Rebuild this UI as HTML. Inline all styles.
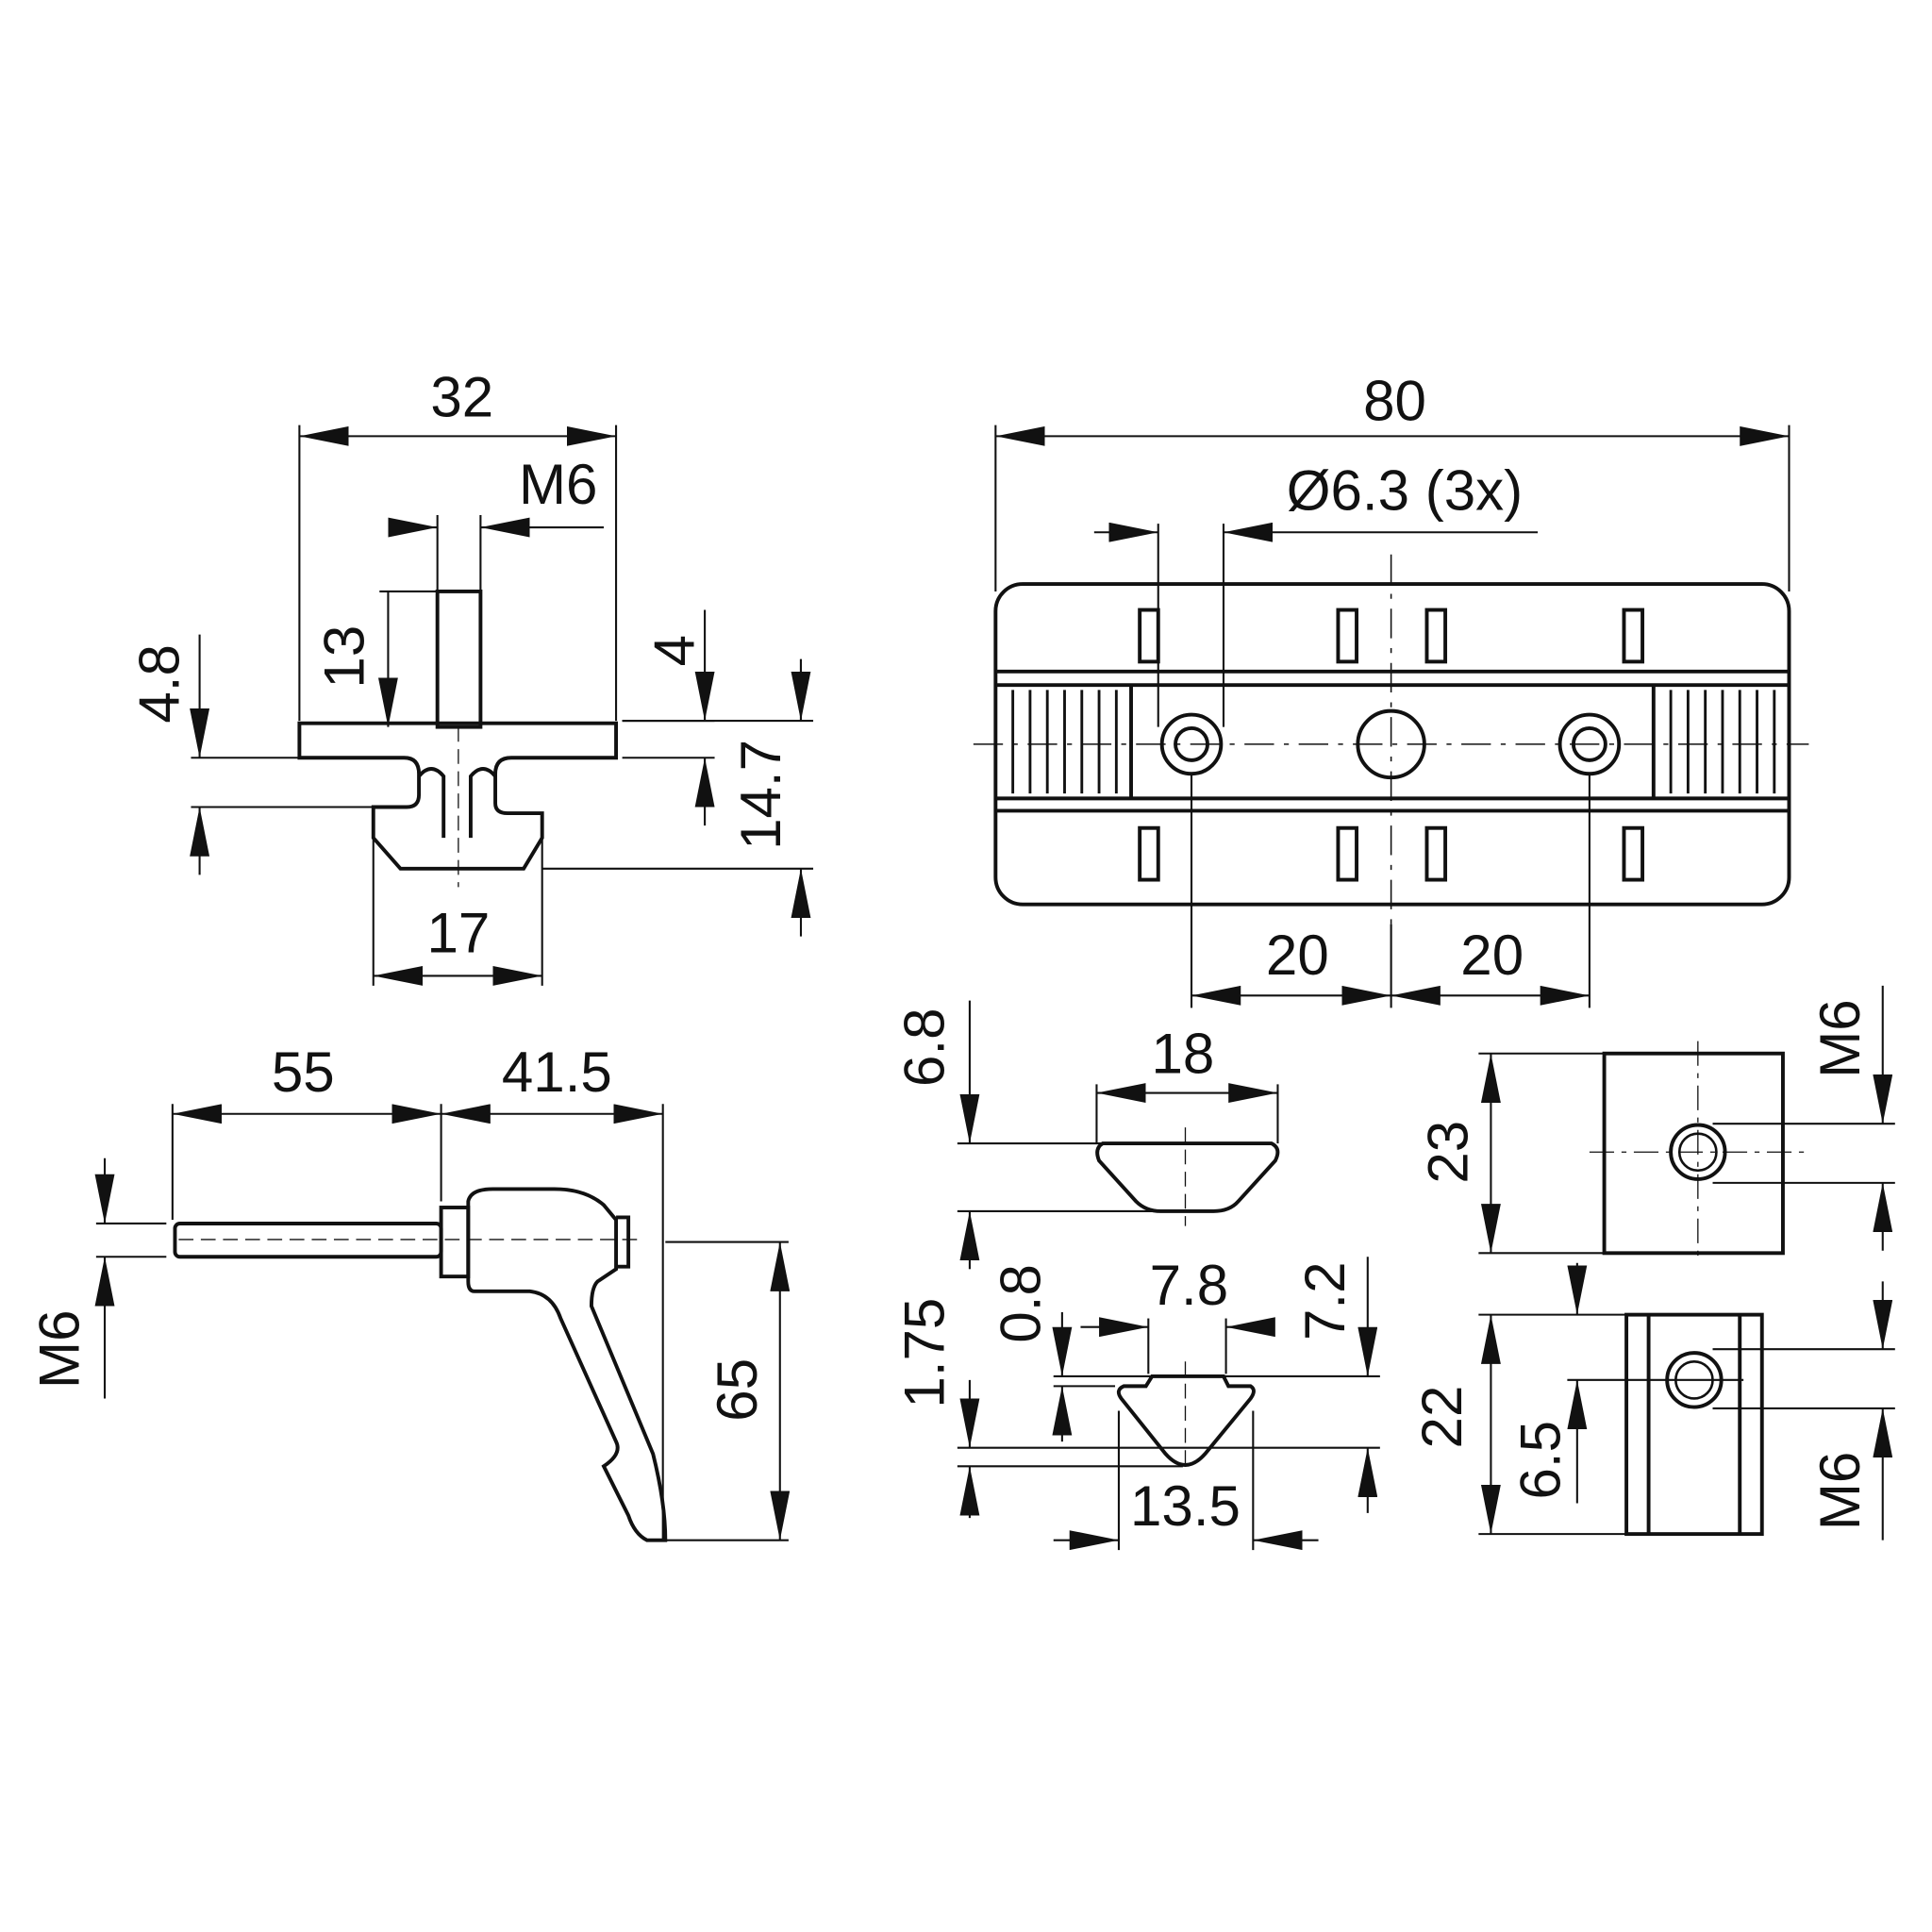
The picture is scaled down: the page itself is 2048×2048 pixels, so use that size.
<!DOCTYPE html>
<html><head><meta charset="utf-8"><style>
html,body{margin:0;padding:0;background:#fff;}
svg{display:block;}
text{font-family:"Liberation Sans",sans-serif;font-size:46px;fill:#111;text-anchor:middle;}
</style></head><body>
<svg width="2048" height="2048" viewBox="0 0 1568 1568" xmlns="http://www.w3.org/2000/svg">
<defs>
<marker id="a" viewBox="0 0 20 8" refX="20" refY="4" markerWidth="40" markerHeight="16" markerUnits="userSpaceOnUse" orient="auto-start-reverse"><path d="M0,0 L20,4 L0,8 z" fill="#111"/></marker>
</defs>
<g stroke="#111" fill="none" stroke-width="1.6">
<!-- ===== top-left view ===== -->
<line x1="243" y1="345" x2="243" y2="585"/><line x1="500" y1="345" x2="500" y2="585"/>
<line x1="243" y1="354" x2="500" y2="354" marker-start="url(#a)" marker-end="url(#a)"/>
<line x1="355" y1="418" x2="355" y2="480"/><line x1="390" y1="418" x2="390" y2="480"/>
<line x1="316" y1="428" x2="355" y2="428" marker-end="url(#a)"/>
<line x1="490" y1="428" x2="390" y2="428" marker-end="url(#a)"/>
<line x1="315" y1="480" x2="315" y2="590" marker-end="url(#a)"/>
<line x1="308" y1="480" x2="355" y2="480"/>
<g stroke-width="3">
<rect x="355" y="480" width="35" height="110"/>
<path d="M243,587 H500 V615 H415 Q402,615 402,628 V652 Q402,660 412,660 H440 V680 L425,705 H325 L303,680 V655 H330 Q340,655 340,645 V628 Q340,615 328,615 H243 Z"/>
<path d="M340,630 Q350,618 360,630 V680 M402,630 Q392,618 382,630 V680"/>
</g>
<line x1="372" y1="590" x2="372" y2="720" stroke-dasharray="12,6" stroke-width="1"/>
<line x1="155" y1="615" x2="243" y2="615"/><line x1="155" y1="655" x2="303" y2="655"/>
<line x1="162" y1="515" x2="162" y2="615" marker-end="url(#a)"/>
<line x1="162" y1="710" x2="162" y2="655" marker-end="url(#a)"/>
<line x1="505" y1="585" x2="580" y2="585"/><line x1="505" y1="615" x2="580" y2="615"/>
<line x1="572" y1="495" x2="572" y2="585" marker-end="url(#a)"/>
<line x1="572" y1="670" x2="572" y2="615" marker-end="url(#a)"/>
<line x1="505" y1="585" x2="660" y2="585"/><line x1="440" y1="705" x2="660" y2="705"/>
<line x1="650" y1="585" x2="650" y2="535" />
<line x1="650" y1="535" x2="650" y2="585" marker-end="url(#a)"/>
<line x1="650" y1="760" x2="650" y2="705" marker-end="url(#a)"/>
<line x1="303" y1="680" x2="303" y2="800"/><line x1="440" y1="680" x2="440" y2="800"/>
<line x1="303" y1="792" x2="440" y2="792" marker-start="url(#a)" marker-end="url(#a)"/>

<!-- ===== top-right view ===== -->
<line x1="808" y1="345" x2="808" y2="480"/><line x1="1452" y1="345" x2="1452" y2="480"/>
<line x1="808" y1="354" x2="1452" y2="354" marker-start="url(#a)" marker-end="url(#a)"/>
<line x1="940" y1="425" x2="940" y2="590"/><line x1="993" y1="425" x2="993" y2="590"/>
<line x1="888" y1="432" x2="940" y2="432" marker-end="url(#a)"/>
<line x1="1248" y1="432" x2="993" y2="432" marker-end="url(#a)"/>
<g stroke-width="3">
<rect x="808" y="474" width="644" height="260" rx="22"/>
<line x1="808" y1="545" x2="1452" y2="545"/><line x1="808" y1="556" x2="1452" y2="556"/>
<line x1="808" y1="648" x2="1452" y2="648"/><line x1="808" y1="658" x2="1452" y2="658"/>
<rect x="925" y="495" width="15" height="42"/><rect x="1086" y="495" width="15" height="42"/>
<rect x="1158" y="495" width="15" height="42"/><rect x="1318" y="495" width="15" height="42"/>
<rect x="925" y="672" width="15" height="42"/><rect x="1086" y="672" width="15" height="42"/>
<rect x="1158" y="672" width="15" height="42"/><rect x="1318" y="672" width="15" height="42"/>
<line x1="918" y1="556" x2="918" y2="648"/><line x1="1342" y1="556" x2="1342" y2="648"/>
<circle cx="967" cy="604" r="24"/><circle cx="967" cy="604" r="13"/>
<circle cx="1129" cy="604" r="27"/>
<circle cx="1290" cy="604" r="24"/><circle cx="1290" cy="604" r="13"/>
</g>
<g stroke-width="2.2">
<line x1="822" y1="560" x2="822" y2="644"/><line x1="836" y1="560" x2="836" y2="644"/><line x1="850" y1="560" x2="850" y2="644"/><line x1="864" y1="560" x2="864" y2="644"/><line x1="878" y1="560" x2="878" y2="644"/><line x1="892" y1="560" x2="892" y2="644"/><line x1="906" y1="560" x2="906" y2="644"/>
<line x1="1356" y1="560" x2="1356" y2="644"/><line x1="1370" y1="560" x2="1370" y2="644"/><line x1="1384" y1="560" x2="1384" y2="644"/><line x1="1398" y1="560" x2="1398" y2="644"/><line x1="1412" y1="560" x2="1412" y2="644"/><line x1="1426" y1="560" x2="1426" y2="644"/><line x1="1440" y1="560" x2="1440" y2="644"/>
</g>
<line x1="790" y1="604" x2="1468" y2="604" stroke-dasharray="24,8,4,8" stroke-width="1.2"/>
<line x1="1129" y1="450" x2="1129" y2="750" stroke-dasharray="24,8,4,8" stroke-width="1.2"/>
<line x1="967" y1="628" x2="967" y2="818"/><line x1="1129" y1="750" x2="1129" y2="818"/><line x1="1290" y1="628" x2="1290" y2="818"/>
<line x1="967" y1="808" x2="1129" y2="808" marker-start="url(#a)" marker-end="url(#a)"/>
<line x1="1129" y1="808" x2="1290" y2="808" marker-start="url(#a)" marker-end="url(#a)"/>

<!-- ===== lever ===== -->
<line x1="140" y1="896" x2="140" y2="990"/><line x1="358" y1="896" x2="358" y2="975"/><line x1="538" y1="896" x2="538" y2="1250"/>
<line x1="140" y1="904" x2="358" y2="904" marker-start="url(#a)" marker-end="url(#a)"/>
<line x1="358" y1="904" x2="538" y2="904" marker-start="url(#a)" marker-end="url(#a)"/>
<g stroke-width="3">
<rect x="142" y="993" width="216" height="27" rx="4"/>
<rect x="358" y="980" width="22" height="56"/>
<path d="M380,975 Q382,965 400,965 H450 Q475,965 490,978 L500,990 V1030 L485,1040 Q480,1045 480,1060 L530,1180 Q540,1220 540,1250 L525,1250 Q515,1245 510,1230 L490,1190 Q505,1180 500,1170 L455,1070 Q448,1050 430,1048 H385 Q380,1048 380,1040 Z"/>
<path d="M500,988 H510 V1028 H500"/>
</g>
<line x1="145" y1="1006" x2="520" y2="1006" stroke-dasharray="12,6" stroke-width="1"/>
<line x1="78" y1="993" x2="135" y2="993"/><line x1="78" y1="1020" x2="135" y2="1020"/>
<line x1="85" y1="940" x2="85" y2="993" marker-end="url(#a)"/>
<line x1="85" y1="1135" x2="85" y2="1020" marker-end="url(#a)"/>
<line x1="540" y1="1008" x2="640" y2="1008"/><line x1="540" y1="1250" x2="640" y2="1250"/>
<line x1="633" y1="1008" x2="633" y2="1250" marker-start="url(#a)" marker-end="url(#a)"/>

<!-- ===== nut profiles ===== -->
<line x1="777" y1="928" x2="900" y2="928"/><line x1="777" y1="983" x2="960" y2="983"/>
<line x1="787" y1="812" x2="787" y2="928" marker-end="url(#a)"/>
<line x1="787" y1="1030" x2="787" y2="983" marker-end="url(#a)"/>
<line x1="890" y1="880" x2="890" y2="928"/><line x1="1037" y1="880" x2="1037" y2="928"/>
<line x1="890" y1="887" x2="1037" y2="887" marker-start="url(#a)" marker-end="url(#a)"/>
<path stroke-width="3" d="M895,928 H1032 Q1040,932 1035,942 L1005,975 Q998,983 985,983 H942 Q930,983 922,975 L892,942 Q888,932 895,928 Z"/>
<line x1="962" y1="915" x2="962" y2="995" stroke-dasharray="12,6" stroke-width="1"/>

<line x1="932" y1="1070" x2="932" y2="1115"/><line x1="995" y1="1070" x2="995" y2="1115"/>
<line x1="877" y1="1077" x2="932" y2="1077" marker-end="url(#a)"/>
<line x1="1030" y1="1077" x2="995" y2="1077" marker-end="url(#a)"/>
<line x1="855" y1="1117" x2="1120" y2="1117"/><line x1="855" y1="1125" x2="905" y2="1125"/>
<line x1="777" y1="1175" x2="1120" y2="1175"/><line x1="777" y1="1190" x2="960" y2="1190"/>
<line x1="862" y1="1065" x2="862" y2="1117" marker-end="url(#a)"/>
<line x1="862" y1="1170" x2="862" y2="1125" marker-end="url(#a)"/>
<line x1="1110" y1="1020" x2="1110" y2="1117" marker-end="url(#a)"/>
<line x1="1110" y1="1228" x2="1110" y2="1175" marker-end="url(#a)"/>
<line x1="787" y1="1120" x2="787" y2="1175" marker-end="url(#a)"/>
<line x1="787" y1="1232" x2="787" y2="1190" marker-end="url(#a)"/>
<path stroke-width="3" d="M935,1117 H993 L997,1125 H1015 Q1020,1128 1015,1135 L978,1180 Q962,1198 946,1180 L910,1135 Q905,1128 912,1125 H930 Z"/>
<line x1="962" y1="1105" x2="962" y2="1195" stroke-dasharray="12,6" stroke-width="1"/>
<line x1="908" y1="1145" x2="908" y2="1258"/><line x1="1017" y1="1145" x2="1017" y2="1258"/>
<line x1="855" y1="1250" x2="908" y2="1250" marker-end="url(#a)"/>
<line x1="1070" y1="1250" x2="1017" y2="1250" marker-end="url(#a)"/>

<!-- ===== right blocks ===== -->
<rect x="1302" y="855" width="145" height="162" stroke-width="3"/>
<circle cx="1378" cy="935" r="22" stroke-width="3"/><circle cx="1378" cy="935" r="15" stroke-width="2"/>
<line x1="1290" y1="935" x2="1470" y2="935" stroke-dasharray="20,6,4,6" stroke-width="1"/>
<line x1="1378" y1="845" x2="1378" y2="1025" stroke-dasharray="20,6,4,6" stroke-width="1"/>
<line x1="1200" y1="855" x2="1302" y2="855"/><line x1="1200" y1="1017" x2="1302" y2="1017"/>
<line x1="1210" y1="855" x2="1210" y2="1017" marker-start="url(#a)" marker-end="url(#a)"/>
<line x1="1390" y1="912" x2="1538" y2="912"/><line x1="1390" y1="960" x2="1538" y2="960"/>
<line x1="1528" y1="800" x2="1528" y2="912" marker-end="url(#a)"/>
<line x1="1528" y1="1015" x2="1528" y2="960" marker-end="url(#a)"/>

<g stroke-width="3">
<rect x="1320" y="1067" width="110" height="178"/>
<line x1="1338" y1="1067" x2="1338" y2="1245"/><line x1="1412" y1="1067" x2="1412" y2="1245"/>
<circle cx="1375" cy="1120" r="22"/>
</g>
<circle cx="1375" cy="1120" r="15" stroke-width="2"/>
<line x1="1200" y1="1067" x2="1320" y2="1067"/><line x1="1200" y1="1245" x2="1320" y2="1245"/>
<line x1="1210" y1="1067" x2="1210" y2="1245" marker-start="url(#a)" marker-end="url(#a)"/>
<line x1="1272" y1="1120" x2="1415" y2="1120"/>
<line x1="1280" y1="1025" x2="1280" y2="1067" marker-end="url(#a)"/>
<line x1="1280" y1="1220" x2="1280" y2="1120" marker-end="url(#a)"/>
<line x1="1390" y1="1095" x2="1538" y2="1095"/><line x1="1390" y1="1143" x2="1538" y2="1143"/>
<line x1="1528" y1="1040" x2="1528" y2="1095" marker-end="url(#a)"/>
<line x1="1528" y1="1250" x2="1528" y2="1143" marker-end="url(#a)"/>
</g>

<!-- texts -->
<text x="375" y="338">32</text>
<text x="453" y="409">M6</text>
<text x="372" y="773">17</text>
<text transform="translate(145,555) rotate(-90)">4.8</text>
<text transform="translate(295,533) rotate(-90)">13</text>
<text transform="translate(563,528) rotate(-90)">4</text>
<text transform="translate(633,645) rotate(-90)">14.7</text>
<text x="1132" y="341">80</text>
<text x="1140" y="414">Ø6.3 (3x)</text>
<text x="1053" y="791">20</text>
<text x="1211" y="791">20</text>
<text x="246" y="886">55</text>
<text x="452" y="886">41.5</text>
<text transform="translate(64,1095) rotate(-90)">M6</text>
<text transform="translate(614,1128) rotate(-90)">65</text>
<text transform="translate(766,850) rotate(-90)">6.8</text>
<text x="960" y="871">18</text>
<text transform="translate(844,1058) rotate(-90)">0.8</text>
<text x="965" y="1059">7.8</text>
<text transform="translate(1091,1056) rotate(-90)">7.2</text>
<text transform="translate(766,1098) rotate(-90)">1.75</text>
<text x="962" y="1238">13.5</text>
<text transform="translate(1191,935) rotate(-90)">23</text>
<text transform="translate(1509,843) rotate(-90)">M6</text>
<text transform="translate(1186,1150) rotate(-90)">22</text>
<text transform="translate(1266,1185) rotate(-90)">6.5</text>
<text transform="translate(1509,1210) rotate(-90)">M6</text>
</svg>
</body></html>
